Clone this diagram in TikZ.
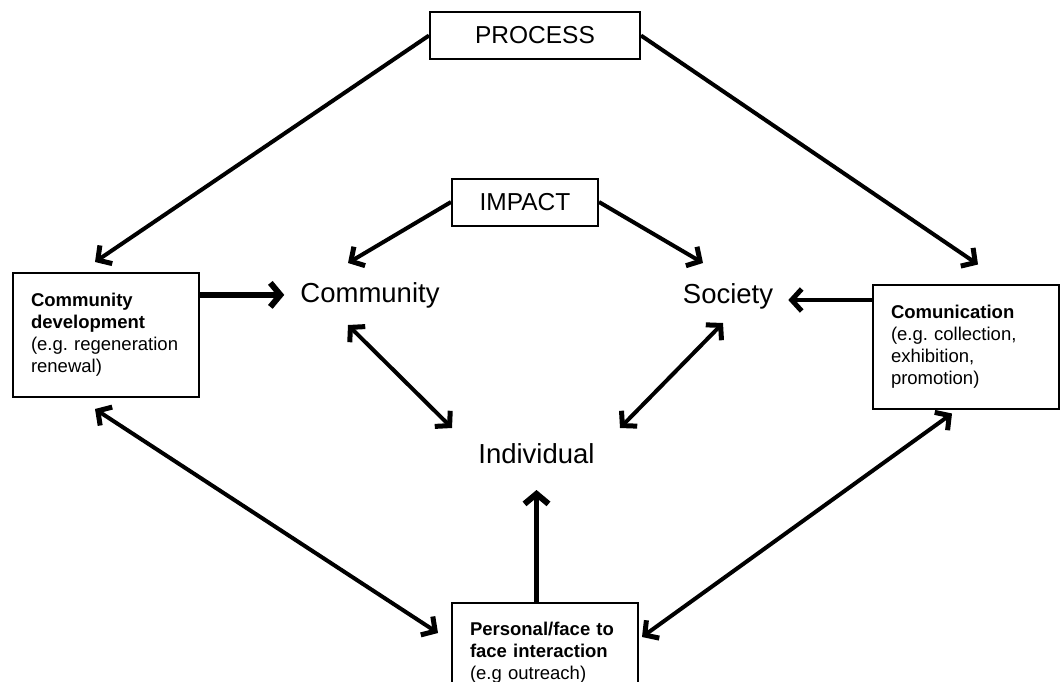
\documentclass[tikz,border=0pt]{standalone}
\usepackage{fontspec}
\setmainfont{Liberation Sans}
\usetikzlibrary{arrows.meta,calc}

\begin{document}
\frenchspacing
\begin{tikzpicture}[x=1pt,y=-1pt,
  box/.style={draw,line width=2pt,minimum width=#1,minimum height=47pt,font=\fontsize{24.5}{28}\selectfont},
  infobox/.style={draw,line width=2pt,align=left,text width=150pt,inner xsep=18pt,font=\fontsize{18.5}{22}\selectfont},
  level/.style={inner sep=0pt,font=\fontsize{27.5}{30}\selectfont},
  tip/.tip={Straight Barb[length=10pt,width=22pt,line width=5pt]},
  arr/.style={line width=4pt,-tip},
  twoarr/.style={line width=4pt,tip-tip},
  bigarr/.style={line width=5.5pt,-{Straight Barb[length=10pt,width=24pt,line width=6pt]}}]
\useasboundingbox (0,0) rectangle (1060,682);

\node[box=210pt] (process) at (535,35.5) {PROCESS};
\node[box=146pt] (impact) at (525,202) {IMPACT};

\node[infobox,minimum height=124pt] (devbox) at (106,335)
  {\textbf{Community}\\\textbf{development}\\(e.g. regeneration\\renewal)};
\node[infobox,minimum height=124pt] (combox) at (966,346.5)
  {\textbf{Comunication}\\(e.g. collection,\\exhibition,\\promotion)};
\node[infobox,anchor=north west,inner ysep=3pt,minimum height=100pt] (facebox) at (451,602)
  {\textbf{Personal/face to}\\\textbf{face interaction}\\(e.g outreach)};

\node[level,anchor=base] (community) at (370,302) {Community};
\node[level,anchor=base] (society) at (728,303) {Society};
\node[level,anchor=base] (individual) at (536.5,463) {Individual};

\draw[arr] (process.west) -- ($(devbox.north)+(-11,-10)$);
\draw[arr] (process.east) -- ($(combox.north)+(12,-19)$);
\draw[arr] (impact.west) -- ($(community.base)+(-22,-39)$);
\draw[arr] (impact.east) -- ($(society.base)+(-25,-40)$);

\draw[bigarr] (devbox.east |- community.west) -- ($(community.west)+(-16,0)$);
\draw[arr] ($(combox.west |- society.base)+(0,-3)$) -- ($(society.base east)+(15,-3)$);
\draw[bigarr] (facebox.north -| individual.base) -- ($(individual.base)+(0,27)$);

\draw[twoarr] ($(community.base)+(-22,23)$) -- ($(individual.base)+(-84.5,-35)$);
\draw[twoarr] ($(society.base)+(-5,20)$) -- ($(individual.base)+(83.5,-35)$);
\draw[twoarr] ($(devbox.south)+(-11,11)$) -- ($(facebox.north west)+(-13,31)$);
\draw[twoarr] ($(combox.south)+(-14,4)$) -- ($(facebox.north east)+(3,35)$);
\end{tikzpicture}
\end{document}
